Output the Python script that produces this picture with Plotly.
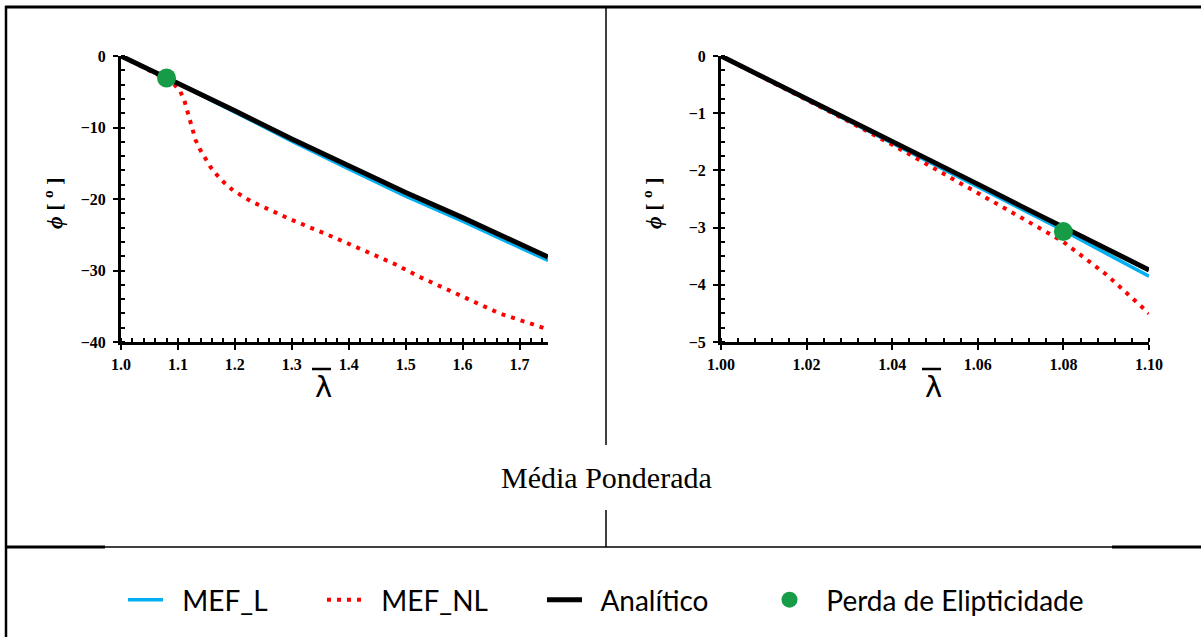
import plotly.graph_objects as go

# ---------------- data ----------------
# Left panel (full range)
lam_L_left = [1.00, 1.10, 1.20, 1.30, 1.40, 1.50, 1.60, 1.70, 1.75]
mef_l_left = [0.0, -3.85, -7.85, -11.9, -15.8, -19.6, -23.1, -26.8, -28.6]
analit_left = [0.0, -3.74, -7.65, -11.6, -15.4, -19.1, -22.6, -26.2, -28.1]
lam_NL_left = [1.00, 1.04, 1.08, 1.095, 1.1035, 1.111, 1.116, 1.120, 1.1246, 1.131,
               1.1386, 1.147, 1.157, 1.168, 1.181, 1.197, 1.2146, 1.230, 1.261,
               1.2935, 1.372, 1.431, 1.481, 1.5246, 1.600, 1.665, 1.745, 1.75]
mef_nl_left = [0.0, -1.55, -3.25, -4.1, -4.85, -6.15, -7.55, -8.95, -10.35, -11.75,
               -13.05, -14.3, -15.5, -16.6, -17.7, -18.8, -19.7, -20.4, -21.5,
               -22.7, -25.3, -27.4, -29.1, -30.9, -33.6, -36.0, -38.1, -38.3]

# Right panel (zoom)
lam_right = [1.00, 1.01, 1.02, 1.03, 1.04, 1.05, 1.06, 1.07, 1.08, 1.09, 1.10]
mef_l_right = [0.0, -0.38, -0.76, -1.14, -1.52, -1.90, -2.29, -2.67, -3.05, -3.45, -3.85]
analit_right = [0.0, -0.37, -0.75, -1.12, -1.50, -1.87, -2.24, -2.62, -2.99, -3.37, -3.74]
mef_nl_right = [0.0, -0.38, -0.76, -1.15, -1.55, -1.97, -2.39, -2.82, -3.25, -3.82, -4.50]

# Loss of ellipticity point
perda_lam = [1.08]
perda_phi = [-3.07]

names = ["MEF_L", "MEF_NL", "Analítico", "Perda de Elipticidade"]
colors = ["#00B0F0", "#FF0000", "#000000", "#169B47"]

left_ticks_x = [1.0, 1.1, 1.2, 1.3, 1.4, 1.5, 1.6, 1.7]
right_ticks_x = [1.00, 1.02, 1.04, 1.06, 1.08, 1.10]
left_ticks_y = [0, -10, -20, -30, -40]
right_ticks_y = [0, -1, -2, -3, -4, -5]

# ---------------- figure ----------------
W, H = 1201, 637
fig = go.Figure()
legend_ids = ["legend", "legend2", "legend3", "legend4"]
PAD = "\u00a0\u00a0"  # small gap between legend symbol and its text

def add_panel(xa, ya, lam_l, l_vals, lam_nl, nl_vals, lam_a, a_vals, show):
    fig.add_trace(go.Scatter(x=lam_l, y=l_vals, mode="lines", name=PAD + names[0],
                             line=dict(color=colors[0], width=3.5),
                             xaxis=xa, yaxis=ya, showlegend=show, legend=legend_ids[0]))
    fig.add_trace(go.Scatter(x=lam_nl, y=nl_vals, mode="lines", name=PAD + names[1],
                             line=dict(color=colors[1], width=4, dash="4px,6px"),
                             xaxis=xa, yaxis=ya, showlegend=show, legend=legend_ids[1]))
    fig.add_trace(go.Scatter(x=lam_a, y=a_vals, mode="lines", name=PAD + names[2],
                             line=dict(color=colors[2], width=5),
                             xaxis=xa, yaxis=ya, showlegend=show, legend=legend_ids[2]))
    fig.add_trace(go.Scatter(x=perda_lam, y=perda_phi, mode="markers", name=PAD + names[3],
                             marker=dict(color=colors[3], size=19),
                             xaxis=xa, yaxis=ya, showlegend=show, legend=legend_ids[3],
                             cliponaxis=False))

add_panel("x", "y", lam_L_left, mef_l_left, lam_NL_left, mef_nl_left,
          lam_L_left, analit_left, True)
add_panel("x2", "y2", lam_right, mef_l_right, lam_right, mef_nl_right,
          lam_right, analit_right, False)

def px(xp):
    return xp / W

def py(yp):
    return 1 - yp / H

tickfont = dict(family="Liberation Serif", size=16, color="black", weight="bold")

axis_common = dict(showgrid=False, zeroline=False, showline=True, linecolor="black",
                   linewidth=3, ticks="outside", ticklen=5, tickwidth=2,
                   tickcolor="black", tickfont=tickfont, mirror=False,
                   automargin=False)

legend_font = dict(family="Lato", size=28, color="black")
legend_x0 = [123, 322, 542, 767]
legend_layout = {}
for lid, x0 in zip(legend_ids, legend_x0):
    legend_layout[lid] = dict(orientation="h", x=px(x0), xanchor="left",
                              y=py(600), yanchor="middle", font=legend_font,
                              bgcolor="rgba(0,0,0,0)", itemwidth=35)

fig.update_layout(
    template="none",
    width=W, height=H,
    margin=dict(l=0, r=0, t=0, b=0, pad=0, autoexpand=False),
    paper_bgcolor="white", plot_bgcolor="white",
    xaxis=dict(domain=[px(121), px(548)], range=[1.0, 1.75], anchor="y",
               tickvals=left_ticks_x, tickformat=".1f",
               minor=dict(dtick=0.02, tick0=1.0, ticks="inside", ticklen=4,
                          tickwidth=2, tickcolor="black"),
               ticklabelstandoff=1, **axis_common),
    yaxis=dict(domain=[py(342), py(56)], range=[-40, 0], anchor="x",
               tickvals=left_ticks_y,
               minor=dict(dtick=2, tick0=0, ticks="inside", ticklen=4,
                          tickwidth=2, tickcolor="black"),
               ticklabelstandoff=4, **axis_common),
    xaxis2=dict(domain=[px(721), px(1149)], range=[1.0, 1.10], anchor="y2",
                tickvals=right_ticks_x, tickformat=".2f",
                minor=dict(dtick=0.004, tick0=1.0, ticks="inside", ticklen=4,
                           tickwidth=2, tickcolor="black"),
                ticklabelstandoff=1, **axis_common),
    yaxis2=dict(domain=[py(342), py(56)], range=[-5, 0], anchor="x2",
                tickvals=right_ticks_y,
                minor=dict(dtick=0.25, tick0=0, ticks="inside", ticklen=4,
                           tickwidth=2, tickcolor="black"),
                ticklabelstandoff=4, **axis_common),
    showlegend=True,
    **legend_layout,
)

# axis titles & panel caption
ann_font_title = dict(family="Liberation Serif", size=22, color="black")
for xc in (53, 652):
    fig.add_annotation(x=px(xc), y=py(203), xref="paper", yref="paper",
                       text="<b><i>ϕ</i> [ <sup>o</sup> ]</b>", textangle=-90,
                       showarrow=False, font=ann_font_title,
                       xanchor="center", yanchor="middle")
for xc in (323, 933):
    fig.add_annotation(x=px(xc), y=py(387), xref="paper", yref="paper",
                       text="λ", showarrow=False,
                       font=dict(family="DejaVu Sans", size=29, color="black"),
                       xanchor="center", yanchor="middle")
    fig.add_shape(type="line", xref="paper", yref="paper",
                  x0=px(xc - 11), x1=px(xc + 8), y0=py(369), y1=py(369),
                  line=dict(color="black", width=2.5))

fig.add_annotation(x=px(606), y=py(477), xref="paper", yref="paper",
                   text="Média Ponderada", showarrow=False,
                   font=dict(family="Liberation Serif", size=30, color="black"),
                   xanchor="center", yanchor="middle")

# table-like frame
def hline(x0, x1, y, w):
    fig.add_shape(type="line", xref="paper", yref="paper",
                  x0=px(x0), x1=px(x1), y0=py(y), y1=py(y),
                  line=dict(color="black", width=w))

def vline(x, y0, y1, w):
    fig.add_shape(type="line", xref="paper", yref="paper",
                  x0=px(x), x1=px(x), y0=py(y0), y1=py(y1),
                  line=dict(color="black", width=w))

hline(5, 1201, 7, 3)
vline(6, 6, 637, 2.5)
vline(606, 6, 445, 1.5)
vline(606, 510, 547, 1.5)
hline(5, 105, 547, 3)
hline(105, 1112, 547, 1.5)
hline(1112, 1201, 547, 3)

fig.write_html("out.html",
               post_script="document.body.style.margin='0';document.body.style.overflow='hidden';")
